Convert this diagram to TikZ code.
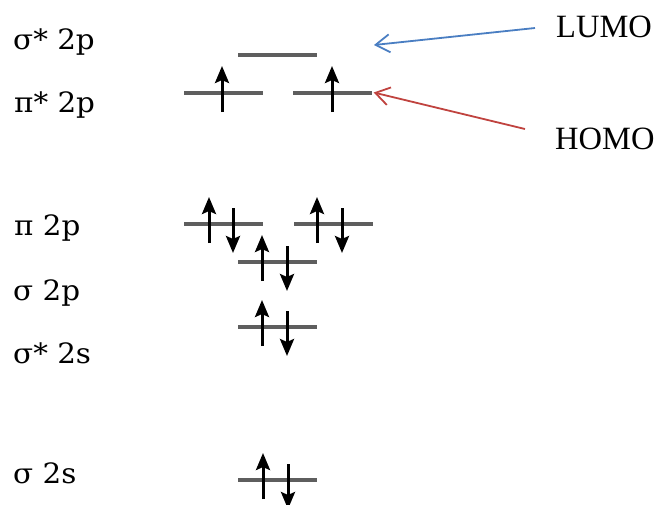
\documentclass[tikz,border=0pt]{standalone}
\usepackage{fontspec}
\usetikzlibrary{arrows.meta,calc}
\newfontfamily\lblfont{DejaVu Serif}
\newfontfamily\tfont{Liberation Serif}
\definecolor{lumoblue}{HTML}{4A7EC2}
\definecolor{homored}{HTML}{C0433F}
\definecolor{levelgray}{HTML}{5E5E5E}
\begin{document}
\begin{tikzpicture}[x=1pt,y=-1pt,
  level/.style={fill=levelgray,draw=none,inner sep=0pt,minimum width=79pt,minimum height=4.8pt,rectangle},
  spin/.style={draw=black,line width=3pt,-{Stealth[length=17pt,width=14pt,inset=3pt]}},
  lbl/.style={anchor=base west,inner sep=0pt,font=\lblfont\fontsize{28}{32}\selectfont},
  mo/.style={anchor=base west,inner sep=0pt,font=\tfont\fontsize{32.5}{38}\selectfont},
  pointer/.style={line width=1.8pt,-{Straight Barb[length=14pt,width=18pt]}}
]
\useasboundingbox (0,0) rectangle (663,504);
% labels
\node[lbl] (lsigsp) at (13,49) {\scalebox{1.05}[1]{σ* 2p}};
\node[lbl] (lpisp) at (14,112) {\scalebox{1.05}[1]{π* 2p}};
\node[lbl] (lpip) at (14,235) {\scalebox{1.05}[1]{π 2p}};
\node[lbl] (lsigp) at (13,300) {\scalebox{1.05}[1]{σ 2p}};
\node[lbl] (lsigss) at (13,363) {\scalebox{1.05}[1]{σ* 2s}};
\node[lbl] (lsigs) at (13,483) {\scalebox{1.05}[1]{σ 2s}};
\node[mo] (lumo) at (556,37) {LUMO};
\node[mo] (homo) at (555,149) {HOMO};
% levels
\node[level] (sigsp) at (277.5,55) {};
\node[level] (pispL) at (223,93) {};
\node[level] (pispR) at (332.5,93) {};
\node[level] (pipL) at (223,224) {};
\node[level] (pipR) at (333,224) {};
\node[level] (sigp) at (277.5,262) {};
\node[level] (sigss) at (277.5,327) {};
\node[level] (sigs) at (277.5,480) {};
% electrons
\draw[spin] ($(pispL.center)+(-1,19)$) -- ++(0,-46);
\draw[spin] ($(pispR.center)+(-0.5,19)$) -- ++(0,-46);
\foreach \n/\u/\d in {pipL/-14/10, pipR/-16/9, sigp/-15.5/9.5, sigss/-15.5/9.5, sigs/-14.5/10.5}{
  \draw[spin] ($(\n.center)+(\u,19)$) -- ++(0,-46);
  \draw[spin] ($(\n.center)+(\d,-16)$) -- ++(0,45);
}
% pointers
\coordinate (lumotail) at (535,28);
\coordinate (lumotip) at (374,45);
\draw[pointer,lumoblue] (lumotail) -- (lumotip);
\coordinate (homotail) at (525,129);
\draw[pointer,homored] (homotail) -- ($(pispR.east)+(1.5,-0.5)$);
\end{tikzpicture}
\end{document}
